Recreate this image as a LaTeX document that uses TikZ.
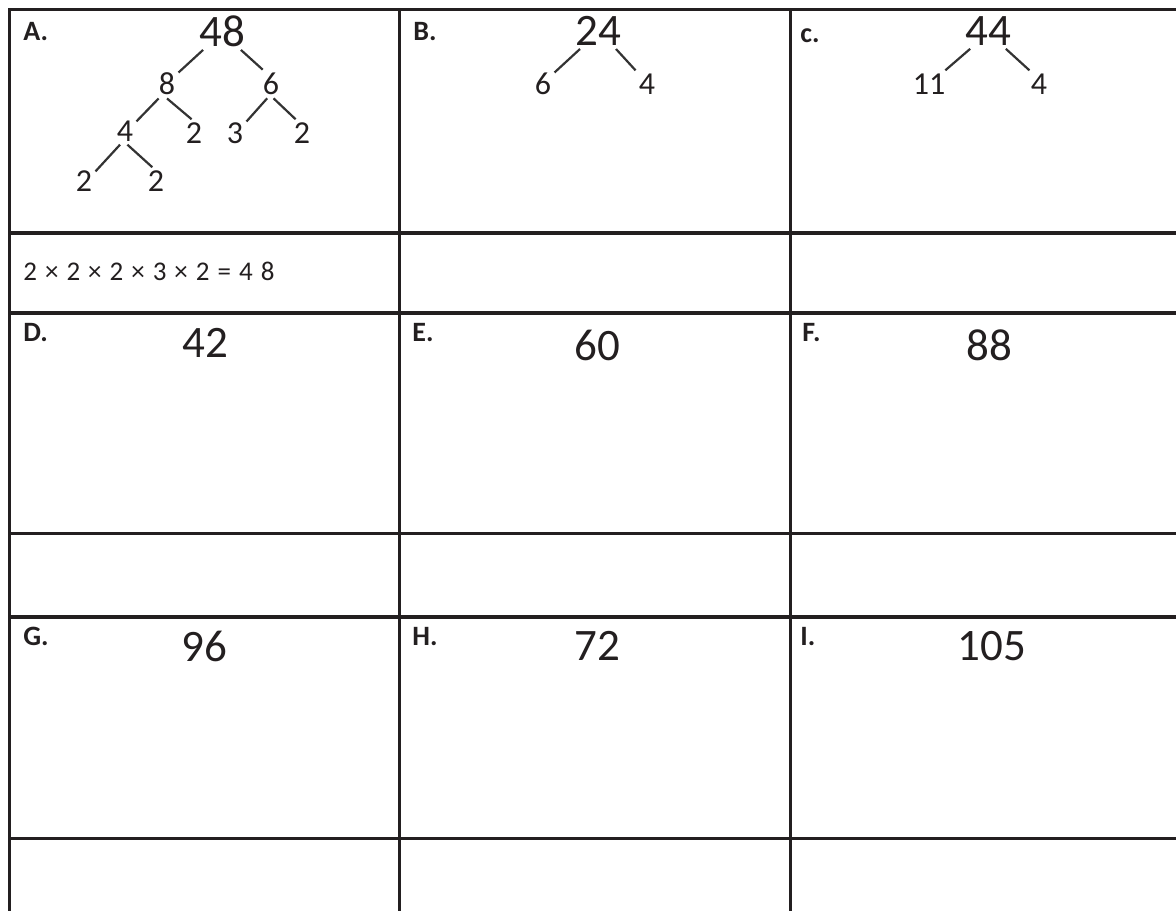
\documentclass[tikz,border=0pt]{standalone}
\usepackage{fontspec}
\setmainfont{Carlito}
\usepackage{tikz}
\usepackage{xcolor}
\usetikzlibrary{positioning}
\definecolor{ink}{HTML}{231F20}

\begin{document}
\begin{tikzpicture}[
    x=0.5pt, y={(0pt,-0.5pt)},
    hline/.style={ink, line width=1.75pt},
    vline/.style={ink, line width=1.5pt},
    tag/.style={font=\fontsize{14}{16}\selectfont\bfseries, text=ink, anchor=north west, inner sep=0pt},
    big/.style={font=\fontsize{22.5}{26}\selectfont, text=ink, inner sep=1.5pt},
    small/.style={font=\fontsize{16}{18}\selectfont, text=ink, inner sep=1.5pt},
    eqn/.style={font=\fontsize{13.5}{16}\selectfont, text=ink, anchor=west, inner sep=0pt},
    br/.style={black!80, line width=1.1pt}
  ]
  \useasboundingbox (0,0) rectangle (1176,911);

  \foreach \yy in {9.5,233,313,533.5,617,838.5}
    \draw[hline] (8,\yy) -- (1176,\yy);
  \foreach \xx in {9.5,399,790}
    \draw[vline] (\xx,8) -- (\xx,911);

  \node[tag] (la) at (23,22) {A.};
  \node[tag] (lb) at (413,22) {B.};
  \node[tag] (lc) at (800,28) {c.};
  \node[tag] (ld) at (23,323) {D.};
  \node[tag] (le) at (412,323) {E.};
  \node[tag] (lf) at (802,323) {F.};
  \node[tag] (lg) at (23,627) {G.};
  \node[tag] (lh) at (412,627) {H.};
  \node[tag] (li) at (800,627) {I.};

  \node[big] (n48) at (222,31) {48};
  \node[small] (n8) at (167,84) {8};
  \node[small] (n6) at (271,84) {6};
  \node[small] (n4) at (125,131) {4};
  \node[small] (n2a) at (194,133) {2};
  \node[small] (n3) at (235,133) {3};
  \node[small] (n2b) at (302,133) {2};
  \node[small] (n2c) at (84,181) {2};
  \node[small] (n2d) at (156,181) {2};
  \draw[br] (n48.225) -- (n8.45);
  \draw[br] (n48.315) -- (n6.120);
  \draw[br] (n8.240) -- (n4.40);
  \draw[br] (n8.south) -- (n2a.100);
  \draw[br] (n6.255) -- (n3.45);
  \draw[br] (n6.280) -- (n2b.115);
  \draw[br] (n4.250) -- (n2c.40);
  \draw[br] (n4.280) -- (n2d.105);

  \node[eqn] (prod) at (23,271.5) {\spaceskip=4pt\relax 2 × 2 × 2 × 3 × 2 = 4 8};

  \node[big] (n24) at (598,31) {24};
  \node[small] (m6) at (543,84) {6};
  \node[small] (m4) at (647,84) {4};
  \draw[br] (n24.225) -- (m6.45);
  \draw[br] (n24.315) -- (m4.130);

  \node[big] (n44) at (988,31) {44};
  \node[small] (n11) at (929,84) {11};
  \node[small] (k4) at (1039,84) {4};
  \draw[br] (n44.225) -- (n11.40);
  \draw[br] (n44.315) -- (k4.125);

  \node[big] (n42) at (205,343) {42};
  \node[big] (n60) at (597,345) {60};
  \node[big] (n88) at (989,345) {88};
  \node[big] (n96) at (204,646) {96};
  \node[big] (n72) at (597,646) {72};
  \node[big] (n105) at (992,646) {105};
\end{tikzpicture}
\end{document}
